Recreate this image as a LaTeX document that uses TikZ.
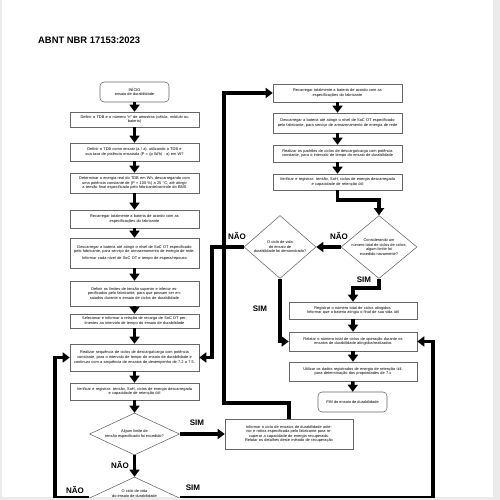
\documentclass[tikz,border=0pt]{standalone}
\usepackage{fontspec}
\setmainfont{Liberation Sans}
\usetikzlibrary{arrows.meta,shapes.geometric}
\begin{document}
\begin{tikzpicture}[x=1pt,y=-1pt,
 box/.style={draw=black!60, line width=0.55pt, inner sep=0pt, font=\fontsize{3.9}{4.6}\selectfont, align=center},
 rbox/.style={box, rounded corners=4pt},
 dia/.style={draw=black!60, line width=0.55pt, diamond, inner sep=0pt},
 dtext/.style={font=\fontsize{3.9}{4.6}\selectfont, align=center, inner sep=0pt},
 flow/.style={line width=3.6pt, -{Triangle[width=10pt,length=7pt]}},
 conn/.style={line width=3.6pt},
 lab/.style={font=\bfseries\fontsize{8}{9}\selectfont, inner sep=0pt},
 ttl/.style={font=\bfseries\fontsize{9.4}{11}\selectfont, inner sep=0pt, anchor=west}
]
\useasboundingbox (0,0) rectangle (500,500);
\fill[black!8] (0,0) rectangle (500,500);
\fill[white] (2,0) rectangle (493,497);
\begin{scope}
\clip (2,0) rectangle (493,497);

\node[ttl] (title) at (38,40.5) {ABNT NBR 17153:2023};

% left column
\node[rbox, minimum width=69pt, minimum height=20pt] (b1) at (134.5,92) {INÍCIO\\ensaio de durabilidade};
\node[box, minimum width=129pt, minimum height=15pt, text width=124pt] (b2) at (134.5,119.5) {Definir o TDB e o número “n” de amostras (célula, módulo ou\\bateria)};
\node[box, minimum width=129pt, minimum height=18pt, text width=124pt] (b3) at (134.5,152) {Definir o TDB como ensaio (a / a), utilizando o TDB e sua taxa de potência ensaiada (P = (p W/h) · a) em W?};
\node[box, minimum width=129pt, minimum height=20pt, text width=124pt] (b4) at (134.5,183) {Determinar a energia real do TDB em Wh, descarregando com uma potência constante de (P × 100 \%) a 25 °C, até atingir a tensão final especificada pelo fabricante/controle do BMS};
\node[box, minimum width=129pt, minimum height=18pt, text width=124pt] (b5) at (134.5,219) {Recarregar totalmente a bateria de acordo com as\\especificações do fabricante};
\node[box, minimum width=129pt, minimum height=30pt, text width=124pt] (b6) at (134.5,253) {Descarregar a bateria até atingir o nível de SoC OT especificado pelo fabricante, para serviço de armazenamento de energia de rede.\\[2.5pt]Informar cada nível de SoC OT e tempo de espera/repouso};
\node[box, minimum width=129pt, minimum height=25pt, text width=124pt] (b7) at (134.5,293.5) {Definir os limites de tensão superior e inferior especificados pelo fabricante, para que possam ser ensaiados durante o ensaio de ciclos de durabilidade};
\node[box, minimum width=129pt, minimum height=14pt, text width=124pt] (b8) at (134.5,321) {Selecionar e informar a relação de recarga de SoC OT pertinentes ao intervalo de tempo do ensaio de durabilidade};
\node[box, minimum width=129pt, minimum height=27pt, text width=124pt] (b9) at (134.5,357.5) {Realizar sequência de ciclos de descarga/carga com potência constante, para o intervalo de tempo do ensaio de durabilidade e continuar com a sequência de ensaios de desempenho de 7.2 a 7.5.};
\node[box, minimum width=129pt, minimum height=17pt, text width=124pt] (b10) at (134.5,391.5) {Verificar e registrar: tensão, SoH, ciclos de energia descarregada\\e capacidade de retenção útil};
\node[dia, minimum width=90pt, minimum height=42pt] (d1) at (134.5,434) {};
\node[dtext] (d1t) at (d1) {Algum limite de\\tensão especificado foi excedido?};
\node[dia, minimum width=90pt, minimum height=42pt] (d2) at (134.5,498) {};
\node[dtext, anchor=north] (d2t) at (134.5,489.5) {O ciclo de vida\\do ensaio de durabilidade\\foi demonstrado?};

\node[box, minimum width=128pt, minimum height=30pt, text width=123pt] (inf) at (289,434) {Informar o ciclo de ensaios de durabilidade anterior e rotina especificada pelo fabricante para recuperar a capacidade de energia recuperada.\\Relatar os detalhes deste método de recuperação};

% right column
\node[box, minimum width=129pt, minimum height=18pt, text width=124pt] (r1) at (337.5,93) {Recarregar totalmente a bateria de acordo com as\\especificações do fabricante};
\node[box, minimum width=129pt, minimum height=20pt, text width=124pt] (r2) at (337.5,123) {Descarregar a bateria até atingir o nível de SoC OT especificado pelo fabricante, para serviço de armazenamento de energia de rede};
\node[box, minimum width=129pt, minimum height=17pt, text width=124pt] (r3) at (337.5,153.5) {Realizar os padrões de ciclos de descarga/carga com potência constante, para o intervalo de tempo do ensaio de durabilidade};
\node[box, minimum width=129pt, minimum height=16pt, text width=124pt] (r4) at (337.5,182) {Verificar e registrar: tensão, SoH, ciclos de energia descarregada\\e capacidade de retenção útil};
\node[dia, minimum width=76pt, minimum height=63pt] (dr) at (379,247) {};
\node[dtext] (drt) at (dr) {Considerando um\\número total de ciclos de ciclos,\\algum limite foi\\excedido novamente?};
\node[dia, minimum width=72pt, minimum height=63pt] (dm) at (280,247) {};
\node[dtext] (dmt) at (dm) {O ciclo de vida\\do ensaio de\\durabilidade foi demonstrado?};
\node[box, minimum width=128pt, minimum height=17pt, text width=123pt] (r5) at (353,310.5) {Registrar o número total de ciclos atingidos.\\Informar que a bateria atingiu o final de sua vida útil};
\node[box, minimum width=128pt, minimum height=19pt, text width=123pt] (r6) at (353,341.5) {Relatar o número total de ciclos de operação durante os\\ensaios de durabilidade atingidos/realizados};
\node[box, minimum width=128pt, minimum height=19pt, text width=123pt] (r7) at (353,371.5) {Utilizar os dados registrados de energia de retenção útil,\\para determinação das propriedades de 7.x};
\node[rbox, minimum width=69pt, minimum height=20pt] (r8) at (352.5,402) {FIM do ensaio de durabilidade};

% corner coordinates
\coordinate (c1) at (55,498);
\coordinate (c2) at (55,357.5);
\coordinate (c3) at (433,498);
\coordinate (c4) at (433,341.5);
\coordinate (c5) at (289,403);
\coordinate (c6) at (224,403);
\coordinate (c7) at (224,93);
\coordinate (c8) at (337.5,200);
\coordinate (c9) at (379,200);
\coordinate (c10) at (379,288);
\coordinate (c11) at (353,288);
\coordinate (c12) at (212,247);
\coordinate (c13) at (212,357.5);
\coordinate (c14) at (280,341.5);

% connectors left column
\draw[flow] (b1) -- (b2);
\draw[flow] (b2) -- (b3);
\draw[flow] (b3) -- (b4);
\draw[flow] (b4) -- (b5);
\draw[flow] (b5) -- (b6);
\draw[flow] (b6) -- (b7);
\draw[flow] (b7) -- (b8);
\draw[flow] (b8) -- (b9);
\draw[flow] (b9) -- (b10);
\draw[flow] (b10) -- (d1.north);
\draw[flow] (d1.south) -- (d2.north);
\draw[flow] (d1.east) -- (inf.west);
\draw[flow] (d2.west) -- (c1) -- (c2) -- (b9.west);
\draw[flow] (d2.east) -- (c3) -- (c4) -- (r6.east);
\draw[flow] (inf.north) -- (c5) -- (c6) -- (c7) -- (r1.west);

% right column
\draw[flow] (r1) -- (r2);
\draw[flow] (r2) -- (r3);
\draw[flow] (r3) -- (r4);
\draw[flow] (r4.south) -- (c8) -- (c9) -- (dr.north);
\draw[flow] (dr.west) -- (dm.east);
\draw[flow] (dr.south) -- (c10) -- (c11) -- (r5.north);
\draw[flow] (dm.west) -- (c12) -- (c13) -- (b9.east);
\draw[flow] (dm.south) -- (c14) -- (r6.west);
\draw[flow] (r5) -- (r6);
\draw[flow] (r6) -- (r7);
\draw[flow] (r7) -- (r8);

% labels
\node[lab] (l1) at (120,465) {NÃO};
\node[lab] (l2) at (197,423) {SIM};
\node[lab] (l3) at (75,490) {NÃO};
\node[lab] (l4) at (193,488) {SIM};
\node[lab] (l5) at (339,236) {NÃO};
\node[lab] (l6) at (237,236) {NÃO};
\node[lab] (l7) at (364,280) {SIM};
\node[lab] (l8) at (260,309) {SIM};
\end{scope}
\end{tikzpicture}
\end{document}
